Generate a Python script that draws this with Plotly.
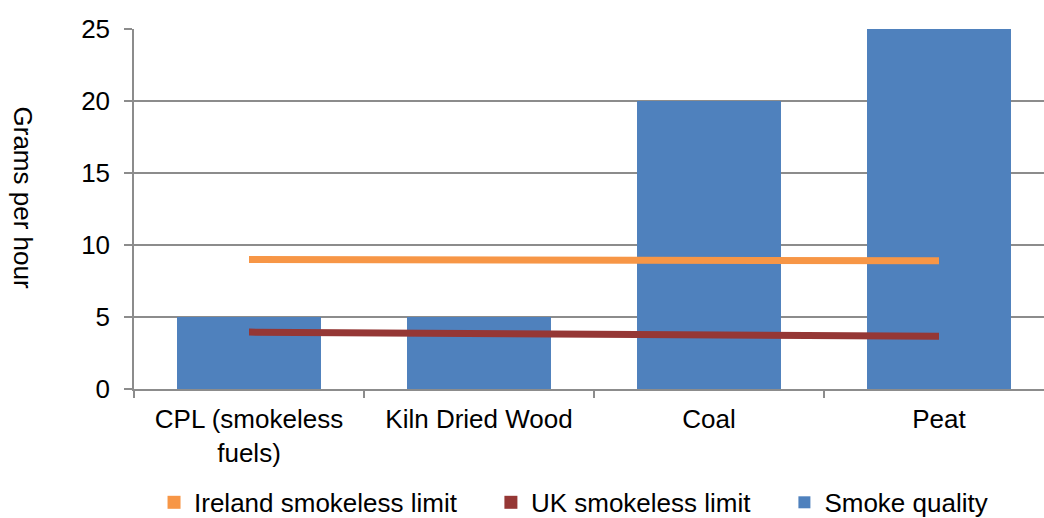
import plotly.graph_objects as go

# Fuel categories and measured emissions (grams per hour)
categories = ["CPL (smokeless<br>fuels)", "Kiln Dried Wood", "Coal", "Peat"]
smoke_quality = [5, 5, 20, 25]
ireland_limit = [9.0, 8.97, 8.93, 8.9]
uk_limit = [3.95, 3.87, 3.77, 3.66]

y_ticks = [0, 5, 10, 15, 20, 25]

BLUE = "#4F81BD"
ORANGE = "#F79646"
RED = "#953735"
GRID = "#8C8C8C"
FONT = "Liberation Sans, Arial, sans-serif"
FS = 26
PAD = "\u00a0" * 4  # extra room between legend entries

fig = go.Figure()

# Legend entries drawn as square swatches
for name, color in [("Ireland smokeless limit" + PAD, ORANGE), ("UK smokeless limit" + PAD, RED)]:
    fig.add_trace(go.Scatter(
        x=[None], y=[None], mode="markers", name=name,
        marker=dict(symbol="square", size=13, color=color),
        hoverinfo="skip",
    ))

fig.add_trace(go.Bar(
    x=categories, y=smoke_quality, name="Smoke quality",
    marker=dict(color=BLUE, line=dict(width=0)), width=0.626,
))

fig.add_trace(go.Scatter(
    x=categories, y=ireland_limit, mode="lines", name="Ireland smokeless limit",
    line=dict(color=ORANGE, width=7), showlegend=False,
))
fig.add_trace(go.Scatter(
    x=categories, y=uk_limit, mode="lines", name="UK smokeless limit",
    line=dict(color=RED, width=7), showlegend=False,
))

fig.update_layout(
    width=1044, height=518,
    margin=dict(l=134, r=0, t=29, b=129, autoexpand=False),
    paper_bgcolor="white", plot_bgcolor="white",
    font=dict(family=FONT, size=FS, color="black"),
    barmode="overlay",
    showlegend=True,
    legend=dict(
        orientation="h", x=0.483, xanchor="center", y=-0.315, yanchor="middle",
        font=dict(family=FONT, size=FS, color="black"),
        itemwidth=30, bgcolor="rgba(0,0,0,0)",
    ),
    xaxis=dict(
        type="category", categoryorder="array", categoryarray=categories,
        range=[-0.5, 3.4565],
        showline=True, linecolor=GRID, linewidth=1.5,
        ticks="outside", tickson="boundaries", ticklen=7, tickcolor=GRID, tickwidth=1.5,
        showgrid=False, zeroline=False, ticklabelstandoff=6,
        tickfont=dict(family=FONT, size=FS, color="black"),
    ),
    yaxis=dict(
        range=[0, 25], tickvals=y_ticks,
        showline=True, linecolor=GRID, linewidth=1.5,
        ticks="outside", ticklen=8, tickcolor=GRID, tickwidth=1.5,
        showgrid=True, gridcolor=GRID, gridwidth=1.5,
        zeroline=False, ticklabelstandoff=9,
        tickfont=dict(family=FONT, size=FS, color="black"),
    ),
    annotations=[dict(
        text="Grams per hour", textangle=90,
        xref="paper", yref="paper", x=-0.122, y=0.532,
        xanchor="center", yanchor="middle", showarrow=False,
        font=dict(family=FONT, size=FS, color="black"),
    )],
)

fig.write_html("out.html")
